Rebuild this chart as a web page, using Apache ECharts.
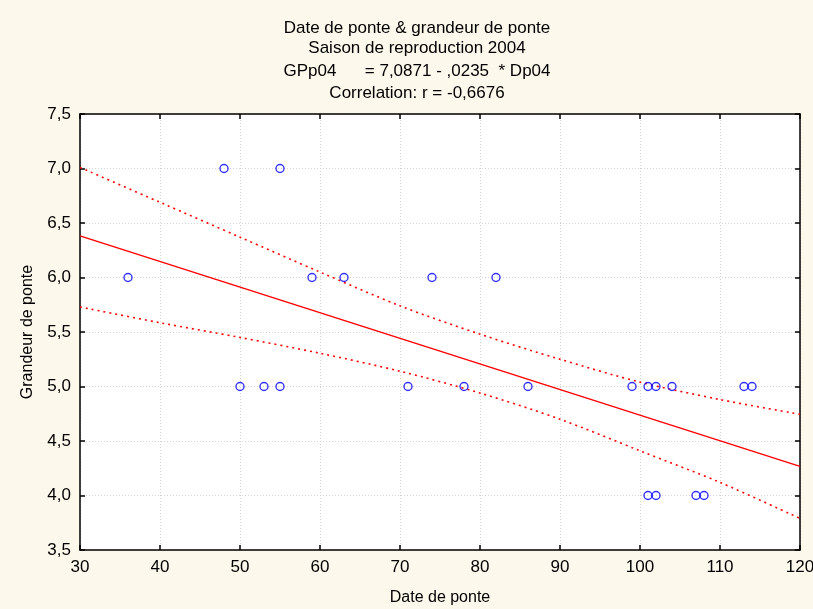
<!DOCTYPE html>
<html>
<head>
<meta charset="utf-8">
<script src="https://cdn.jsdelivr.net/npm/echarts@6/dist/echarts.min.js"></script>
<style>
  html, body { margin: 0; padding: 0; background: #fdf8ec; }
  #chart { width: 813px; height: 609px; }
</style>
</head>
<body>
<div id="chart"></div>
<script>
// Observations: laying date (Dp04) and clutch size (GPp04), season 2004
const dateDePonte = [48, 55, 36, 59, 63, 74, 82, 50, 53, 55, 71, 78, 86, 99, 101, 102, 104, 113, 114, 101, 102, 107, 108];
const grandeurDePonte = [7, 7, 6, 6, 6, 6, 6, 5, 5, 5, 5, 5, 5, 5, 5, 5, 5, 5, 5, 4, 4, 4, 4];

// Fitted line: GPp04 = 7,0871 - ,0235 * Dp04
const intercept = 7.0871;
const slope = -0.0235;
const fitRange = [30, 120];

// 95% confidence limits of the fitted line
const bandX = [30, 40, 50, 60, 70, 80, 90, 100, 110, 120];
const bandUpper = [7.01, 6.69, 6.37, 6.05, 5.74, 5.48, 5.25, 5.04, 4.88, 4.745];
const bandLower = [5.73, 5.585, 5.45, 5.305, 5.14, 4.94, 4.70, 4.41, 4.12, 3.79];

const xTicks = { min: 30, max: 120, step: 10 };
const yTicks = { min: 3.5, max: 7.5, step: 0.5 };

const titleLines = [
  'Date de ponte & grandeur de ponte',
  'Saison de reproduction 2004',
  'GPp04      = 7,0871 - ,0235  * Dp04',
  'Correlation: r = -0,6676'
];

const FONT = '"Liberation Sans", Arial, sans-serif';
const points = dateDePonte.map((x, i) => [x, grandeurDePonte[i]]);
const fitLine = fitRange.map(x => [x, intercept + slope * x]);
const upperLine = bandX.map((x, i) => [x, bandUpper[i]]);
const lowerLine = bandX.map((x, i) => [x, bandLower[i]]);

const frame = { show: true, lineStyle: { color: '#000', width: 1.5 } };
const ticksIn = { show: true, inside: true, length: 5, lineStyle: { color: '#000', width: 1.5 } };
const dotted = { show: true, lineStyle: { color: '#d4d4d4', type: [1, 2], width: 1 } };

const chart = echarts.init(document.getElementById('chart'), null, { renderer: 'canvas' });
chart.setOption({
  backgroundColor: '#fdf8ec',
  animation: false,
  textStyle: { fontFamily: FONT },
  graphic: titleLines.map((t, i) => ({
    type: 'text',
    x: 417,
    y: [28, 48, 71, 93][i],
    style: {
      text: t,
      fill: '#000',
      font: '17px ' + FONT,
      textAlign: 'center',
      textVerticalAlign: 'middle'
    }
  })),
  grid: {
    left: 80, right: 13, top: 114, bottom: 59,
    containLabel: false, outerBoundsMode: 'none',
    backgroundColor: '#ffffff', show: true, borderWidth: 0
  },
  xAxis: [
    {
      type: 'value', position: 'bottom',
      min: xTicks.min, max: xTicks.max, interval: xTicks.step,
      name: 'Date de ponte', nameLocation: 'middle', nameGap: 40,
      nameTextStyle: { fontSize: 16, color: '#000', fontFamily: FONT },
      axisLine: frame, axisTick: ticksIn, splitLine: dotted,
      axisLabel: { fontSize: 17, color: '#000', margin: 9, fontFamily: FONT }
    },
    {
      type: 'value', position: 'top',
      min: xTicks.min, max: xTicks.max, interval: xTicks.step,
      axisLine: frame, axisTick: ticksIn, splitLine: { show: false },
      axisLabel: { show: false }
    }
  ],
  yAxis: [
    {
      type: 'value', position: 'left',
      min: yTicks.min, max: yTicks.max, interval: yTicks.step,
      name: 'Grandeur de ponte', nameLocation: 'middle', nameGap: 44, nameRotate: 90,
      nameTextStyle: { fontSize: 16, color: '#000', fontFamily: FONT },
      axisLine: frame, axisTick: ticksIn, splitLine: dotted,
      axisLabel: {
        fontSize: 17, color: '#000', margin: 9, fontFamily: FONT,
        formatter: v => v.toFixed(1).replace('.', ',')
      }
    },
    {
      type: 'value', position: 'right',
      min: yTicks.min, max: yTicks.max, interval: yTicks.step,
      axisLine: frame, axisTick: ticksIn, splitLine: { show: false },
      axisLabel: { show: false }
    }
  ],
  series: [
    {
      type: 'line', data: upperLine, smooth: 0.3, symbol: 'none',
      lineStyle: { color: '#ff0000', width: 1.6, type: [2, 4] }, z: 2
    },
    {
      type: 'line', data: lowerLine, smooth: 0.3, symbol: 'none',
      lineStyle: { color: '#ff0000', width: 1.6, type: [2, 4] }, z: 2
    },
    {
      type: 'line', data: fitLine, symbol: 'none',
      lineStyle: { color: '#ff0000', width: 1.5 }, z: 3
    },
    {
      type: 'scatter', data: points, symbol: 'circle', symbolSize: 8,
      itemStyle: { color: 'rgba(255,255,255,0)', borderColor: '#0000ff', borderWidth: 1.4 }, z: 4
    }
  ]
});
</script>
</body>
</html>
